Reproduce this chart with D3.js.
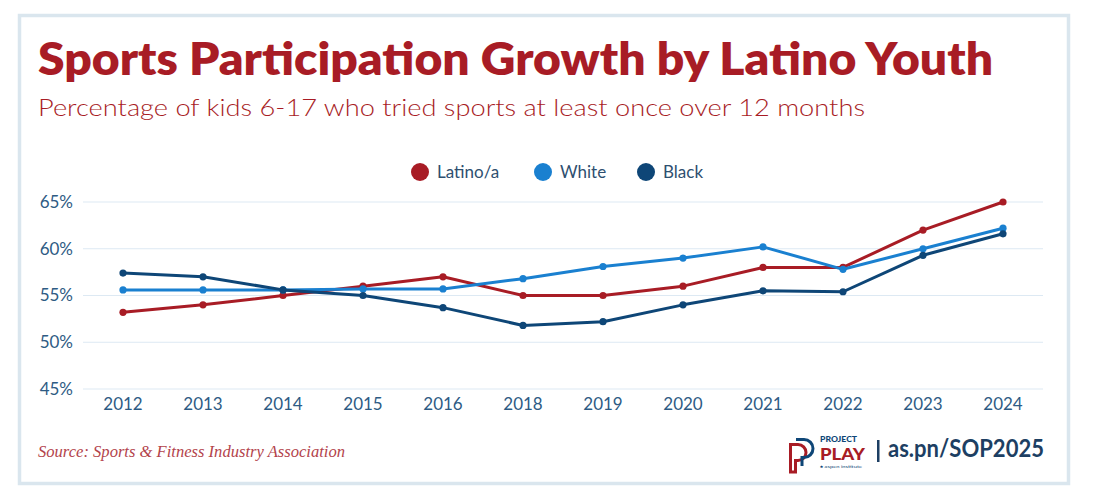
<!DOCTYPE html>
<html>
<head>
<meta charset="utf-8">
<script src="https://cdn.jsdelivr.net/npm/d3@7"></script>
<style>
  body { margin: 0; background: #fff; }
  svg { display: block; font-family: Lato, "Open Sans", sans-serif; }
</style>
</head>
<body>
<div id="chart"></div>
<script>
// Data
const years = ["2012", "2013", "2014", "2015", "2016", "2018", "2019", "2020", "2021", "2022", "2023", "2024"];
const latino = [53.2, 54.0, 55.0, 56.0, 57.0, 55.0, 55.0, 56.0, 58.0, 58.0, 62.0, 65.0];
const white = [55.6, 55.6, 55.6, 55.7, 55.7, 56.8, 58.1, 59.0, 60.2, 57.8, 60.0, 62.2];
const black = [57.4, 57.0, 55.6, 55.0, 53.7, 51.8, 52.2, 54.0, 55.5, 55.4, 59.3, 61.6];
const yTicks = [45, 50, 55, 60, 65];

const series = [
    { name: "Latino/a", values: latino, color: "#a81c25" },
    { name: "White", values: white, color: "#1a80d0" },
    { name: "Black", values: black, color: "#0e4677" }
];

const W = 1116, H = 503;
const svg = d3.select("#chart").append("svg")
    .attr("width", W)
    .attr("height", H);

// Card frame
svg.append("rect")
    .attr("x", 19.5).attr("y", 15.5)
    .attr("width", 1049).attr("height", 468)
    .attr("fill", "#fff")
    .attr("stroke", "#dae6ee")
    .attr("stroke-width", 3.5);

// Title + subtitle
svg.append("text")
    .attr("x", 38).attr("y", 75)
    .attr("fill", "#a81c25")
    .attr("font-size", 46)
    .attr("font-weight", 800)
    .attr("textLength", 955)
    .attr("lengthAdjust", "spacingAndGlyphs")
    .text("Sports Participation Growth by Latino Youth");

svg.append("text")
    .attr("x", 38).attr("y", 116)
    .attr("fill", "#a81c25")
    .attr("font-size", 24)
    .attr("font-weight", 300)
    .attr("textLength", 827)
    .attr("lengthAdjust", "spacingAndGlyphs")
    .text("Percentage of kids 6-17 who tried sports at least once over 12 months");

// Scales
const x = d3.scaleBand()
    .domain(years)
    .range([83, 1043])
    .padding(0);

const y = d3.scaleLinear()
    .domain([45, 65])
    .range([389, 202]);

// Gridlines
svg.append("g")
    .selectAll("line")
    .data(yTicks)
    .enter()
    .append("line")
    .attr("x1", 83).attr("x2", 1043)
    .attr("y1", d => y(d)).attr("y2", d => y(d))
    .attr("stroke", "#dde9f3")
    .attr("stroke-width", 1);

// Y axis labels
const yAxis = svg.append("g")
    .attr("transform", "translate(73,0)")
    .call(d3.axisLeft(y).tickValues(yTicks).tickFormat(d => `${d}%`).tickSize(0).tickPadding(0));
yAxis.select(".domain").remove();
yAxis.selectAll("text")
    .attr("font-family", "Lato, sans-serif")
    .attr("font-size", 17)
    .attr("fill", "#2e5b84");

// X axis labels
const xAxis = svg.append("g")
    .attr("transform", "translate(0,389)")
    .call(d3.axisBottom(x).tickSize(0).tickPadding(9));
xAxis.select(".domain").remove();
xAxis.selectAll("text")
    .attr("font-family", "Lato, sans-serif")
    .attr("font-size", 17)
    .attr("fill", "#2e5b84");

// Lines + points
const line = d3.line()
    .x((d, i) => x(years[i]) + x.bandwidth() / 2)
    .y(d => y(d));

series.forEach(s => {
    svg.append("path")
        .datum(s.values)
        .attr("d", line)
        .attr("fill", "none")
        .attr("stroke", s.color)
        .attr("stroke-width", 3)
        .attr("stroke-linejoin", "round");

    svg.append("g")
        .selectAll("circle")
        .data(s.values)
        .enter()
        .append("circle")
        .attr("cx", (d, i) => x(years[i]) + x.bandwidth() / 2)
        .attr("cy", d => y(d))
        .attr("r", 3.6)
        .attr("fill", s.color);
});

// Legend
const legendX = [420, 543, 646];
const legend = svg.append("g")
    .selectAll("g")
    .data(series)
    .enter()
    .append("g")
    .attr("transform", (d, i) => `translate(${legendX[i]},172)`);
legend.append("circle")
    .attr("r", 9)
    .attr("fill", d => d.color);
legend.append("text")
    .attr("x", 17)
    .attr("y", 6)
    .attr("font-size", 17)
    .attr("fill", "#2e4f70")
    .text(d => d.name);

// Source
svg.append("text")
    .attr("x", 38).attr("y", 457)
    .attr("fill", "#b3434b")
    .attr("font-family", "'Liberation Serif', serif")
    .attr("font-style", "italic")
    .attr("font-size", 16)
    .attr("textLength", 307)
    .attr("lengthAdjust", "spacingAndGlyphs")
    .text("Source: Sports & Fitness Industry Association");

// Project Play logo (rough)
const logo = svg.append("g").attr("transform", "translate(789,438)");
logo.append("path")
    .attr("d", "M1.5,6.5 H9 A8,8 0 0 1 9,22.5 H6.5 V34 H1.5 Z")
    .attr("fill", "none")
    .attr("stroke", "#a81c25")
    .attr("stroke-width", 3);
logo.append("path")
    .attr("d", "M7,1.5 H15 A9,9 0 0 1 15,19.5 H13 V28")
    .attr("fill", "none")
    .attr("stroke", "#0e4677")
    .attr("stroke-width", 3);
logo.append("text")
    .attr("x", 31).attr("y", 3.5)
    .attr("font-size", 7)
    .attr("font-weight", 900)
    .attr("fill", "#0e4677")
    .attr("textLength", 37)
    .attr("lengthAdjust", "spacingAndGlyphs")
    .text("PROJECT");
logo.append("text")
    .attr("x", 31).attr("y", 21.5)
    .attr("font-size", 16)
    .attr("font-weight", 900)
    .attr("fill", "#a81c25")
    .attr("textLength", 45)
    .attr("lengthAdjust", "spacingAndGlyphs")
    .text("PLAY");
logo.append("text")
    .attr("x", 31).attr("y", 29.5)
    .attr("font-size", 4.5)
    .attr("fill", "#0e4677")
    .attr("textLength", 42)
    .attr("lengthAdjust", "spacingAndGlyphs")
    .text("\u2660 aspen institute");

svg.append("rect")
    .attr("x", 877).attr("y", 440)
    .attr("width", 2.5).attr("height", 22)
    .attr("fill", "#1d3f63");

svg.append("text")
    .attr("x", 888).attr("y", 457)
    .attr("fill", "#1d3f63")
    .attr("font-size", 24)
    .attr("font-weight", 700)
    .attr("textLength", 156)
    .attr("lengthAdjust", "spacingAndGlyphs")
    .text("as.pn/SOP2025");
</script>
</body>
</html>
